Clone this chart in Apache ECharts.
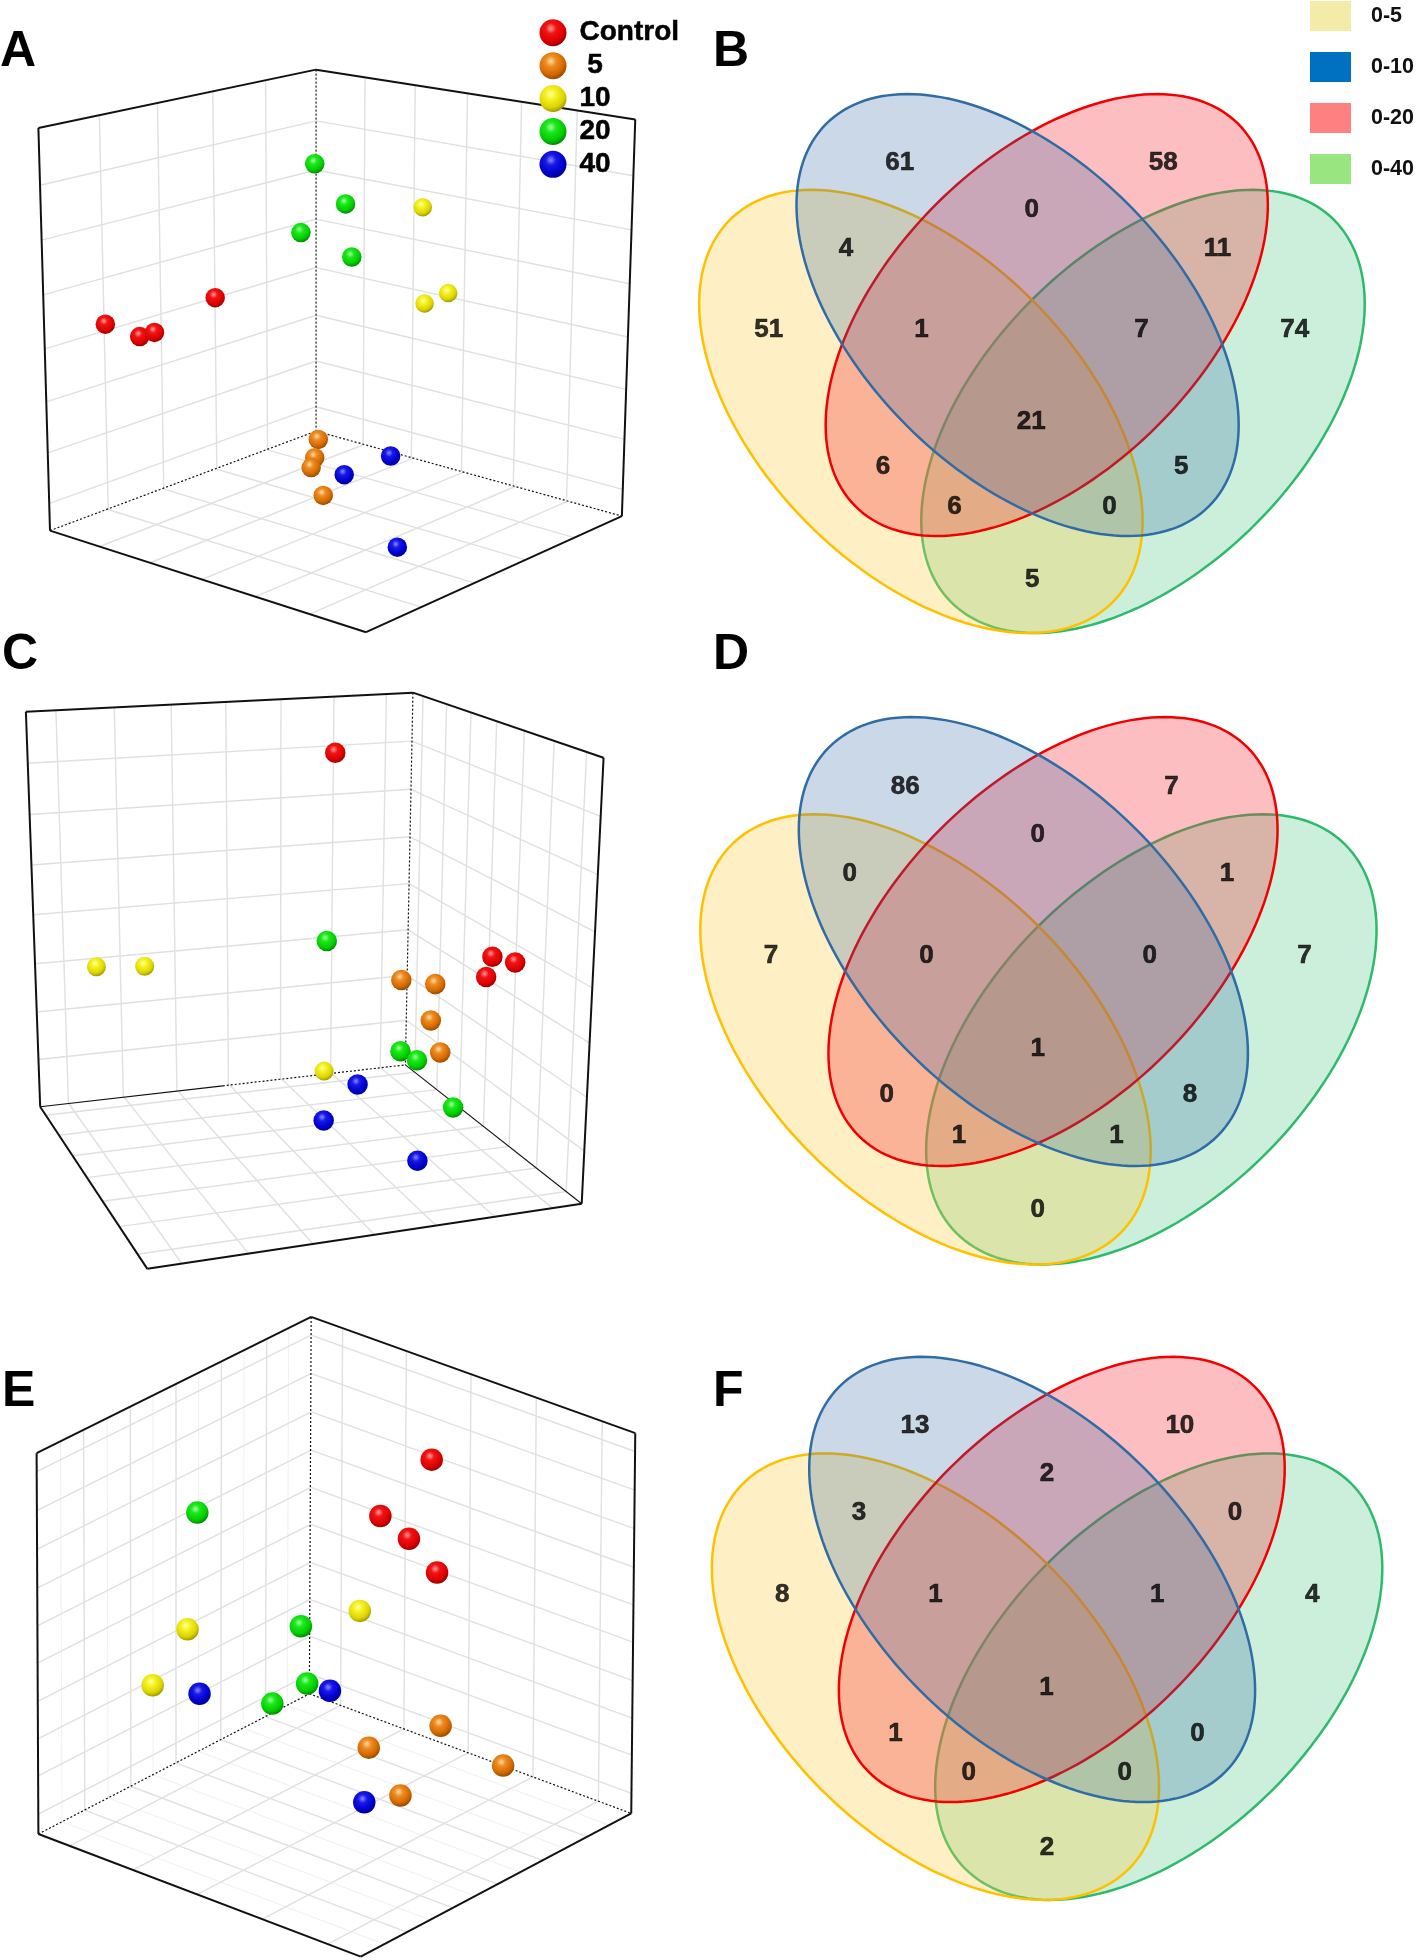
<!DOCTYPE html>
<html><head><meta charset="utf-8"><style>html,body{margin:0;background:#fff}#c{width:1416px;height:1960px}</style>
<script src="https://cdn.jsdelivr.net/npm/echarts@6/dist/echarts.min.js"></script></head><body><div id="c"></div>
<script>
// ---- data: sphere positions as read in each panel's own plot units
const groups = ['Control', ' 5', '10', '20', '40'];
const pointsA = [
  [[236,782],[313,812],[346,802],[482,718]],
  [[713,1060],[705,1104],[697,1128],[724,1195]],
  [[947,500],[1004,707],[951,732]],
  [[705,395],[774,492],[674,561],[788,620]],
  [[875,1100],[771,1145],[890,1320]]
];
const pointsC = [
  [[751,272],[1103,764],[1154,778],[1089,813]],
  [[899,820],[975,830],[965,918],[986,995]],
  [[216,788],[324,787],[726,1040]],
  [[732,726],[897,992],[934,1014],[1015,1128]],
  [[801,1072],[725,1159],[935,1256]]
];
const pointsE = [
  [[967,397],[852,529],[916,582],[979,661]],
  [[987,1020],[826,1071],[1127,1113],[897,1183]],
  [[806,751],[420,794],[342,925]],
  [[442,521],[674,787],[688,921],[610,968]],
  [[739,938],[447,945],[816,1199]]
];
// box corners: LT, BT, RT, LB, BB, RB, F
const boxA = {LT:[86,309],BT:[708,168],RT:[1423,288],LB:[112,1280],BB:[708,1040],RB:[1393,1245],F:[820,1525]};
const boxC = {LT:[58,173],BT:[925,127],RT:[1352,284],LB:[90,1126],BB:[908,1025],RB:[1303,1360],F:[330,1517]};
const boxE = {LT:[82,382],BT:[697,63],RT:[1423,335],LB:[86,1273],BB:[693,945],RB:[1414,1225],F:[808,1560]};
const ticksA = {u:[.2,.4,.6,.8], uLight:[], v:[.167,.333,.5,.667,.833], w:[.137,.27,.404,.538,.671,.8,.93]};
const ticksC = {u:[.073,.217,.36,.5,.644,.785,.927], uLight:[], v:[.064,.208,.349,.49,.633,.778,.926], w:[.124,.249,.374,.499,.624,.749,.874]};
const ticksE = {u:[.169,.338,.504,.67,.836], uLight:[.086,.254,.42,.587,.753,.917], v:[.098,.296,.496,.697,.899], w:[.048,.149,.25,.351,.45,.548,.649,.748,.846,.947]};
// venn
const vennSets = ['0-40', '0-5', '0-20', '0-10'];
const vennCentersB = [[977,991],[500,991],[770.5,760],[707.5,760]];
const vennCentersD = [[995,986],[510,986],[784,751.5],[720,751.5]];
const vennCentersF = [[1011,883],[531.5,883],[803,650],[739,650]];
const vennCountsB = [61,58,0,4,11,51,1,7,74,21,6,5,6,0,5];
const vennCountsD = [86,7,0,0,1,7,0,0,7,1,0,8,1,1,0];
const vennCountsF = [13,10,2,3,0,8,1,1,4,1,1,0,0,0,2];
const vennSpotsB = [[453,388],[1022,388],[738,502],[337,596],[1139,596],[170,790],[500,790],[975,790],[1306,790],[737,1013],[417,1121],[1061,1121],[571,1217],[906,1217],[739,1395]];
const vennSpotsD = [[465,373],[1040,373],[751,489],[345,583],[1160,583],[175,782],[511,782],[993,782],[1327,782],[751,1006],[425,1117],[1080,1117],[581,1215],[921,1215],[751,1395]];
const vennSpotsF = [[486,275],[1058,275],[771,390],[365,485],[1177,485],[199,682],[530,682],[1009,682],[1344,682],[770,906],[444,1017],[1096,1017],[602,1112],[939,1112],[771,1292]];

// ---- styles
const FONT = '"Liberation Sans", Arial, sans-serif';
const sphere = [
  ['#ff9c9c','#f01414','#dc0000','#8e0000'],
  ['#ffdca6','#ee8c22','#d26800','#8c4400'],
  ['#ffffa8','#f6f224','#dcd400','#948e00'],
  ['#a0ffa0','#1ce81c','#00cc00','#007c00'],
  ['#8a8aff','#1818e8','#0000cc','#000084']
].map(c=>({type:'radial',x:.42,y:.34,r:.7,colorStops:[{offset:0,color:c[0]},{offset:.28,color:c[1]},{offset:.7,color:c[2]},{offset:1,color:c[3]}]}));
const vennStyle = {
  '0-5':{stroke:'#FFC000',fill:'rgba(253,205,70,0.32)'},
  '0-10':{stroke:'#2F6CA6',fill:'rgba(46,100,160,0.25)'},
  '0-20':{stroke:'#F00000',fill:'rgba(245,40,50,0.30)'},
  '0-40':{stroke:'#2DBB6B',fill:'rgba(50,190,110,0.25)'}
};
const legendSwatch = {'0-5':'#F5EBA8','0-10':'#0070C0','0-20':'#FF8080','0-40':'#99E680'};

// ---- grids: panel rect in page px, each axis spans the panel's plot units
const panels = [
  {left:0,top:0,width:700,height:650},   // A
  {left:0,top:640,width:700,height:650}, // C
  {left:0,top:1290,width:700,height:670},// E
  {left:690,top:0,width:726,height:650}, // B
  {left:690,top:630,width:726,height:650},// D
  {left:690,top:1310,width:726,height:650}// F
];
const U = 1568;
const grid = panels.map(p=>({...p,containLabel:false}));
const xAxis = panels.map((p,i)=>({type:'value',gridIndex:i,min:0,max:U,show:false}));
const yAxis = panels.map((p,i)=>({type:'value',gridIndex:i,min:0,max:U,inverse:true,show:false}));

function quad(p00,p10,p11,p01){
  const dx1=p10[0]-p11[0],dx2=p01[0]-p11[0],sx=p00[0]-p10[0]+p11[0]-p01[0];
  const dy1=p10[1]-p11[1],dy2=p01[1]-p11[1],sy=p00[1]-p10[1]+p11[1]-p01[1];
  const det=dx1*dy2-dx2*dy1;
  const g=(sx*dy2-dx2*sy)/det,h=(dx1*sy-sx*dy1)/det;
  const a=p10[0]-p00[0]+g*p10[0],b=p01[0]-p00[0]+h*p01[0],c=p00[0];
  const d=p10[1]-p00[1]+g*p10[1],e=p01[1]-p00[1]+h*p01[1],f=p00[1];
  return (u,v)=>{const w=g*u+h*v+1;return [(a*u+b*v+c)/w,(d*u+e*v+f)/w];};
}
function boxLines(b,t,extra){
  const out=[];
  const add=(p,q,kind)=>out.push([p[0],p[1],q[0],q[1],kind]);
  const L=quad(b.LT,b.BT,b.BB,b.LB), R=quad(b.BT,b.RT,b.RB,b.BB), Fl=quad(b.LB,b.BB,b.RB,b.F);
  t.uLight.forEach(u=>{add(L(u,0),L(u,1),4);add(Fl(u,0),Fl(u,1),4);});
  t.u.forEach(u=>{add(L(u,0),L(u,1),0);add(Fl(u,0),Fl(u,1),0);});
  t.w.forEach(w=>{add(L(0,w),L(1,w),0);add(R(0,w),R(1,w),0);});
  t.v.forEach(v=>{add(R(v,0),R(v,1),0);add(Fl(0,v),Fl(1,v),0);});
  add(b.BT,b.BB,2);
  const lerp=(p,q,s)=>[p[0]+(q[0]-p[0])*s,p[1]+(q[1]-p[1])*s];
  if(extra&&extra.solidFloor){
    const m=lerp(b.LB,b.BB,extra.solidFloor);
    add(b.LB,m,3);add(m,b.BB,2);add(b.BB,b.RB,3);
  } else {add(b.LB,b.BB,2);add(b.BB,b.RB,2);}
  [[b.LT,b.BT],[b.BT,b.RT],[b.LT,b.LB],[b.RT,b.RB],[b.LB,b.F],[b.F,b.RB]].forEach(e=>add(e[0],e[1],1));
  return out;
}
const lineKinds=[
  {stroke:'#e0e0e0',lineWidth:1.4},
  {stroke:'#111',lineWidth:2},
  {stroke:'#111',lineWidth:1.2,lineDash:[2,2]},
  {stroke:'#111',lineWidth:1.1},
  {stroke:'#f0f0f0',lineWidth:1}
];
function boxSeries(i,b,t,extra){
  return {type:'custom',name:'box'+i,xAxisIndex:i,yAxisIndex:i,z:1,silent:true,clip:false,
    data:boxLines(b,t,extra),
    encode:{x:[0,2],y:[1,3]},
    renderItem:(params,api)=>{
      const a=api.coord([api.value(0),api.value(1)]),c=api.coord([api.value(2),api.value(3)]);
      return {type:'line',shape:{x1:a[0],y1:a[1],x2:c[0],y2:c[1]},style:{...lineKinds[api.value(4)],fill:null}};
    }};
}
function pointSeries(i,pts,sizes){
  return pts.map((d,g)=>({type:'scatter',name:groups[g],xAxisIndex:i,yAxisIndex:i,z:5,silent:true,
    data:d,symbolSize:sizes[g],itemStyle:{color:sphere[g],opacity:1}}));
}
function vennSeries(i,centers,hw,hh){
  return vennSets.map((name,k)=>{
    const dir=(name==='0-5'||name==='0-10')?1:-1; // major axis down-right or down-left
    const outer=(name==='0-5'||name==='0-40');    // outer sets bulge slightly on their lower flank
    return {type:'custom',name,xAxisIndex:i,yAxisIndex:i,z:2+k*0.1,silent:true,clip:false,
      data:[centers[k]],itemStyle:{color:vennStyle[name].fill},
      encode:{x:0,y:1},
      renderItem:(params,api)=>{
        const cx=api.value(0),cy=api.value(1),pts=[];
        const r=0.498;
        for(let n=0;n<180;n++){
          const t=n/180*2*Math.PI;
          let X=Math.cos(t),Y=r*Math.cos(t)+Math.sqrt(1-r*r)*Math.sin(t);
          if(outer){const p=Math.max(0,(Y-X)/2)*0.0226;X-=p;Y+=p;}
          pts.push(api.coord([cx+dir*X*hw,cy+Y*hh]));
        }
        return {type:'polygon',shape:{points:pts},style:{fill:vennStyle[name].fill,stroke:vennStyle[name].stroke,lineWidth:2.5}};
      }};
  });
}
function labelSeries(i,spots,counts){
  return {type:'scatter',name:'counts'+i,xAxisIndex:i,yAxisIndex:i,z:8,silent:true,symbolSize:1,itemStyle:{color:'rgba(0,0,0,0)'},
    data:spots.map((s,k)=>[s[0],s[1],counts[k]]),
    label:{show:true,position:'inside',offset:[0,2],formatter:p=>String(p.value[2]),color:'#000',fontFamily:FONT,fontWeight:'bold',fontSize:26,textBorderColor:'#000',textBorderWidth:0.6}};
}
const series=[
  boxSeries(0,boxA,ticksA), boxSeries(1,boxC,ticksC,{solidFloor:.5}), boxSeries(2,boxE,ticksE),
  ...pointSeries(0,pointsA,[19.5,19.5,18.5,19.5,19.5]),
  ...pointSeries(1,pointsC,[20.5,20.5,19,20.5,20.5]),
  ...pointSeries(2,pointsE,[22.5,22.5,22.5,22.5,22.5]),
  ...vennSeries(3,vennCentersB,477.5,533),
  ...vennSeries(4,vennCentersD,485,541.5),
  ...vennSeries(5,vennCentersF,481.5,537),
  labelSeries(3,vennSpotsB,vennCountsB),labelSeries(4,vennSpotsD,vennCountsD),labelSeries(5,vennSpotsF,vennCountsF)
];
const letter=(text,left,top)=>({text,left,top,padding:0,textStyle:{fontFamily:FONT,fontWeight:'bold',fontSize:50,color:'#000'}});
const option={
  animation:false,backgroundColor:'#fff',
  title:[letter('A',0,27),letter('B',713,27),letter('C',2,630),letter('D',713,630),letter('E',2,1367),letter('F',713,1367)],
  grid,xAxis,yAxis,series,
  legend:[
    {data:groups.map(name=>({name,icon:'circle'})),orient:'vertical',left:539.5,top:18.5,padding:0,itemWidth:27,itemHeight:27,itemGap:4.4,selectedMode:false,
     textStyle:{fontFamily:FONT,fontWeight:'bold',fontSize:28,lineHeight:27,color:'#000',padding:[0,0,0,8],textBorderColor:'#000',textBorderWidth:0.5}},
    {data:['0-5','0-10','0-20','0-40'].map(name=>({name,icon:'rect',itemStyle:{color:legendSwatch[name],borderWidth:0}})),orient:'vertical',left:1310,top:1,padding:0,itemWidth:41,itemHeight:30,itemGap:21,selectedMode:false,
     textStyle:{fontFamily:FONT,fontWeight:'bold',fontSize:21.5,lineHeight:24,color:'#111',padding:[0,0,0,15]}}
  ]
};
echarts.init(document.getElementById('c'),null,{renderer:'canvas'}).setOption(option);
</script></body></html>
